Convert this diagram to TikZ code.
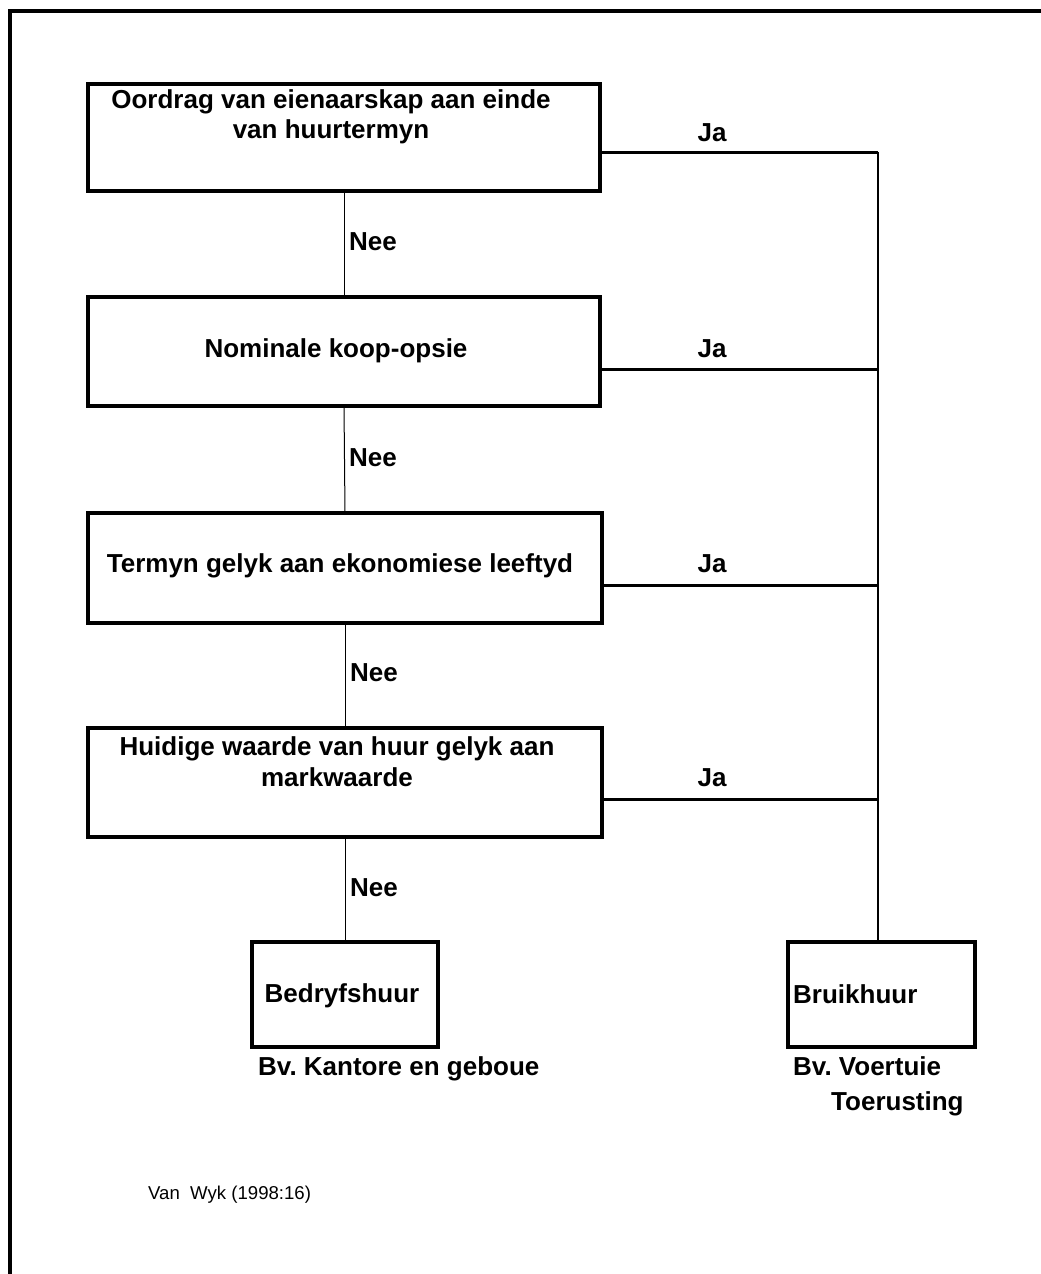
\documentclass[tikz,border=0pt]{standalone}
\usepackage{fontspec}
\setmainfont{Liberation Sans}
\frenchspacing
\begin{document}
\begin{tikzpicture}[x=1pt,y=-1pt,
  box/.style={draw, line width=3.2pt, inner sep=0pt, outer sep=0pt, anchor=north west},
  lbl/.style={font=\fontsize{26}{30}\selectfont\bfseries, inner sep=0pt, align=center, anchor=base},
  thinline/.style={line width=1pt},
  trunk/.style={line width=1.8pt},
  jaline/.style={line width=3pt},
  frameline/.style={line width=4pt}
]
\useasboundingbox (0,0) rectangle (1041,1274);
\fill[white] (0,0) rectangle (1041,1274);
\coordinate (fr) at (1041,11);
\coordinate (fc) at (10,11);
\coordinate (fb) at (10,1274);
\draw[frameline] (fr) -- (fc) -- (fb);

\node[box, minimum width=512pt, minimum height=107pt] (b1) at (88,84) {};
\node[box, minimum width=512pt, minimum height=109pt] (b2) at (88,297) {};
\node[box, minimum width=514pt, minimum height=110pt] (b3) at (88,513) {};
\node[box, minimum width=514pt, minimum height=109pt] (b4) at (88,728) {};
\node[box, minimum width=186pt, minimum height=105pt] (b5) at (252,942) {};
\node[box, minimum width=187pt, minimum height=105pt] (b6) at (788,942) {};

% anchor=base of a multi-line node is the baseline of its last line
\node[lbl] (t1) at (331,138) {Oordrag van eienaarskap aan einde\\van huurtermyn};
\node[lbl] (t2) at (336,357) {Nominale koop-opsie};
\node[lbl] (t3) at (340,572) {Termyn gelyk aan ekonomiese leeftyd};
\node[lbl, font=\fontsize{26}{31}\selectfont\bfseries] (t4) at (337,786) {Huidige waarde van huur gelyk aan\\markwaarde};
\node[lbl] (t5) at (342,1002) {Bedryfshuur};
\node[lbl, anchor=base west] (t6) at (793,1003) {Bruikhuur};

\coordinate (j1) at (878,152);
\coordinate (j2) at (878,369);
\coordinate (j3) at (878,585);
\coordinate (j4) at (878,799);

\draw[thinline] (b1.south) -- (b2.north);
\draw[thinline] (b2.south) -- (b3.north);
\draw[thinline] (b3.south) -- (b4.north);
\draw[thinline] (b4.south) -- (b5.north);
\node[lbl, anchor=base west] (n1) at (349,250) {Nee};
\node[lbl, anchor=base west] (n2) at (349,466) {Nee};
\node[lbl, anchor=base west] (n3) at (350,681) {Nee};
\node[lbl, anchor=base west] (n4) at (350,896) {Nee};

\draw[jaline] (b1.east |- j1) -- (j1);
\draw[jaline] (b2.east |- j2) -- (j2);
\draw[jaline] (b3.east |- j3) -- (j3);
\draw[jaline] (b4.east |- j4) -- (j4);
\draw[trunk] (j1) -- (j1 |- b6.north);

\node[lbl] (ja1) at (712,141) {Ja};
\node[lbl] (ja2) at (712,357) {Ja};
\node[lbl] (ja3) at (712,572) {Ja};
\node[lbl] (ja4) at (712,786) {Ja};

\node[lbl, anchor=base west] (c1) at (258,1075) {Bv. Kantore en geboue};
\node[lbl, anchor=base west, align=left, font=\fontsize{26}{35}\selectfont\bfseries] (c2) at (793,1110) {Bv. Voertuie\\\hspace*{38pt}Toerusting};
\node[font=\fontsize{18.6}{22}\selectfont, inner sep=0pt, anchor=base west] (src) at (148,1199) {Van\ \ Wyk (1998:16)};
\end{tikzpicture}
\end{document}
